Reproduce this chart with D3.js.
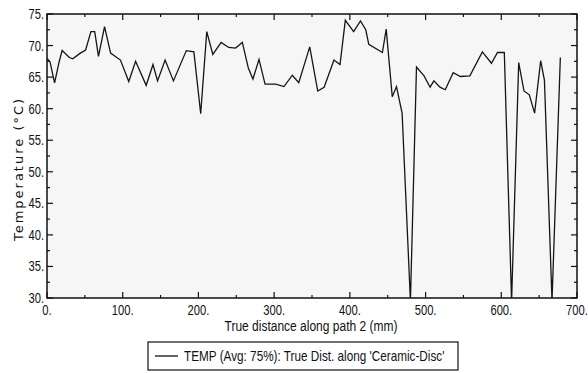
<!DOCTYPE html>
<html>
<head>
<meta charset="utf-8">
<script src="https://cdn.jsdelivr.net/npm/d3@7"></script>
<style>
  body { margin: 0; background: #fff; }
  svg text { fill: #111; }
</style>
</head>
<body>
<div id="chart"></div>
<script>
// Distância (mm) e temperatura (°C)
const distance = [0, 4, 10, 16, 20, 29.5, 34, 44, 51, 58, 63, 68, 76, 84, 97, 108, 117, 131, 140, 146, 156, 167, 184, 194,
  203, 211, 219, 230, 240, 249, 258, 266, 272, 280, 288, 302, 313, 324, 332.5, 347, 357.6, 366, 379, 387, 394, 405, 414, 421,
  425, 443, 448, 456, 461.6, 469, 480, 488, 498, 506, 511, 519, 526, 536.5, 546, 558.5, 575, 587, 595, 604, 613.6, 623, 630,
  637, 644, 652, 657, 667, 678];
const temperature = [68.0, 67.4, 64.1, 67.4, 69.2, 68.1, 67.9, 68.8, 69.3, 72.2, 72.2, 68.3, 73.0, 68.8, 67.7, 64.3, 67.5,
  63.7, 67.0, 64.4, 67.7, 64.4, 69.2, 69.0, 59.2, 72.2, 68.6, 70.5, 69.7, 69.6, 70.5, 66.4, 64.7, 67.8, 63.9, 63.9, 63.5,
  65.3, 64.1, 69.8, 62.8, 63.4, 67.7, 67.0, 74.0, 72.2, 73.9, 72.5, 70.2, 68.9, 72.6, 61.9, 63.5, 59.3, 29.5, 66.6, 65.2,
  63.4, 64.4, 63.4, 63.0, 65.7, 65.1, 65.2, 69.0, 67.2, 68.9, 68.9, 29.5, 67.3, 62.8, 62.2, 59.3, 67.6, 64.5, 29.5, 68.1];

const xTicks = [0, 100, 200, 300, 400, 500, 600, 700];
const yTicks = [30, 35, 40, 45, 50, 55, 60, 65, 70, 75];
const xLabel = "True distance along path 2 (mm)";
const yLabel = "Temperature (\u00b0C)";
const legendLabel = "TEMP (Avg: 75%): True Dist. along 'Ceramic-Disc'";

const data = distance.map((d, i) => ({ x: d, y: temperature[i] }));

const width = 588, height = 373;
const margin = { top: 14, right: 11, bottom: 75, left: 47 };
const numFont = "'Liberation Sans', Arial, sans-serif";
const squeeze = 0.8; // fonte estreita simulada

const x = d3.scaleLinear().domain([0, 700]).range([margin.left, width - margin.right]);
const y = d3.scaleLinear().domain([30, 75]).range([height - margin.bottom, margin.top]);

const svg = d3.select("#chart").append("svg")
  .attr("width", width)
  .attr("height", height)
  .attr("viewBox", [0, 0, width, height]);

// fundo da área do gráfico
svg.append("rect")
  .attr("x", x(0)).attr("y", y(75))
  .attr("width", x(700) - x(0)).attr("height", y(30) - y(75))
  .attr("fill", "#f7f6f7");

svg.append("defs").append("clipPath").attr("id", "clip")
  .append("rect")
  .attr("x", x(0)).attr("y", y(75))
  .attr("width", x(700) - x(0)).attr("height", y(30) - y(75));

// ticks internos (maiores e menores) nos quatro lados
const xMinor = d3.range(50, 700, 100);
const yMinor = d3.range(32.5, 75, 5);
const tickG = svg.append("g").attr("stroke", "#111").attr("stroke-width", 1.2);
function xTickMarks(vals, len) {
  vals.forEach(v => {
    tickG.append("line").attr("x1", x(v)).attr("x2", x(v)).attr("y1", y(30)).attr("y2", y(30) - len);
    tickG.append("line").attr("x1", x(v)).attr("x2", x(v)).attr("y1", y(75)).attr("y2", y(75) + len);
  });
}
function yTickMarks(vals, len) {
  vals.forEach(v => {
    tickG.append("line").attr("y1", y(v)).attr("y2", y(v)).attr("x1", x(0)).attr("x2", x(0) + len);
    tickG.append("line").attr("y1", y(v)).attr("y2", y(v)).attr("x1", x(700)).attr("x2", x(700) - len);
  });
}
xTickMarks(xTicks, 6);
xTickMarks(xMinor, 3);
yTickMarks(yTicks, 6);
yTickMarks(yMinor, 3);

// linha
const line = d3.line().x(d => x(d.x)).y(d => y(d.y));
svg.append("path")
  .datum(data)
  .attr("clip-path", "url(#clip)")
  .attr("fill", "none")
  .attr("stroke", "#151515")
  .attr("stroke-width", 1.3)
  .attr("d", line);

// moldura
svg.append("rect")
  .attr("x", x(0)).attr("y", y(75))
  .attr("width", x(700) - x(0)).attr("height", y(30) - y(75))
  .attr("fill", "none")
  .attr("stroke", "#111")
  .attr("stroke-width", 1.5);

// rótulos dos ticks
svg.append("g").selectAll("text").data(xTicks).join("text")
  .attr("transform", d => `translate(${x(d)},${y(30) + 17}) scale(${squeeze},1)`)
  .attr("text-anchor", "middle")
  .attr("font-family", numFont)
  .attr("font-size", 14)
  .text(d => d + ".");

svg.append("g").selectAll("text").data(yTicks).join("text")
  .attr("transform", d => `translate(${x(0) - 3},${y(d) + 5}) scale(${squeeze},1)`)
  .attr("text-anchor", "end")
  .attr("font-family", numFont)
  .attr("font-size", 14)
  .text(d => d + ".");

// títulos dos eixos
svg.append("text")
  .attr("transform", `translate(311,331) scale(${squeeze},1)`)
  .attr("text-anchor", "middle")
  .attr("font-family", numFont)
  .attr("font-size", 15)
  .text(xLabel);

svg.append("text")
  .attr("transform", "translate(23,169) rotate(-90)")
  .attr("text-anchor", "middle")
  .attr("font-family", "'DejaVu Sans', Verdana, sans-serif")
  .attr("font-size", 13)
  .attr("letter-spacing", 2)
  .text(yLabel);

// legenda
const legend = svg.append("g");
legend.append("rect")
  .attr("x", 148).attr("y", 342)
  .attr("width", 310).attr("height", 28)
  .attr("fill", "#fff")
  .attr("stroke", "#222")
  .attr("stroke-width", 1.3);
legend.append("line")
  .attr("x1", 155).attr("x2", 178)
  .attr("y1", 356).attr("y2", 356)
  .attr("stroke", "#111").attr("stroke-width", 1.3);
legend.append("text")
  .attr("transform", `translate(184,361) scale(0.84,1)`)
  .attr("font-family", numFont)
  .attr("font-size", 14)
  .text(legendLabel);
</script>
</body>
</html>
